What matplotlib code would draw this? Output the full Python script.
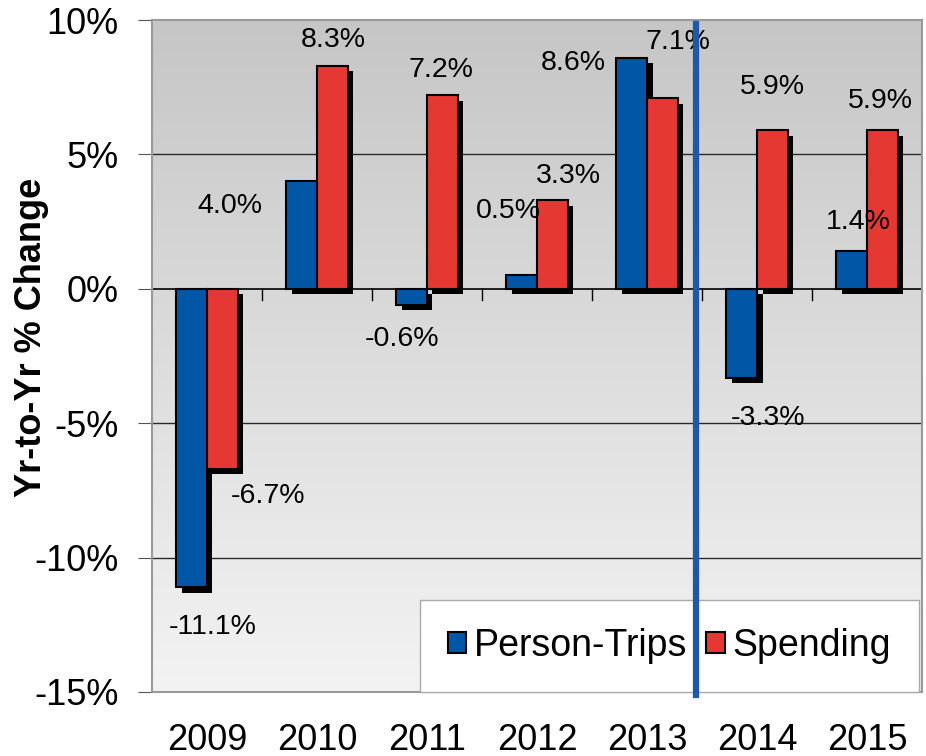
import numpy as np
import matplotlib
matplotlib.use("Agg")
import matplotlib.pyplot as plt
import matplotlib.patheffects as pe
from matplotlib.patches import Patch

plt.rcParams['font.family'] = ['Liberation Sans', 'DejaVu Sans']

# Datos
anios = ['2009', '2010', '2011', '2012', '2013', '2014', '2015']
viajes = [-11.1, 4.0, -0.6, 0.5, 8.6, -3.3, 1.4]
gasto = [-6.7, 8.3, 7.2, 3.3, 7.1, 5.9, 5.9]

# Desplazamiento de las etiquetas respecto a la barra (dx en categorias, dy en %)
desp_viajes = [(0.195, -1.5), (-0.65, -0.93), (-0.09, -1.25), (-0.12, 2.4), (-0.53, -0.2), (0.24, -1.5), (0.06, 1.1)]
desp_gasto = [(0.415, -1.0), (0.005, 0.96), (-0.01, 0.95), (0.15, 0.9), (0.14, 2.1), (0.0, 1.6), (-0.02, 1.1)]

azul = '#0156a6'
rojo = '#e63833'
ancho = 0.28

fig = plt.figure(figsize=(9.26, 7.56), dpi=100)
ax = fig.add_axes([0.164, 0.0847, 0.8317, 0.8888])

x = np.arange(len(anios))

# Fondo degradado (oscuro arriba, claro abajo)
grad = np.linspace(0, 1, 256).reshape(-1, 1)
ax.imshow(grad, cmap=matplotlib.colors.LinearSegmentedColormap.from_list('g', ['#c6c6c6', '#f3f3f3']),
          extent=[-0.5, len(anios) - 0.5, -15, 10], origin='upper', aspect='auto', zorder=0)
ax.set_xlim(-0.5, len(anios) - 0.5)
ax.set_ylim(-15, 10)

# Lineas de la rejilla
for yv in [5, -5, -10]:
    ax.axhline(yv, color='#2a2a2a', lw=1, zorder=1)
ax.axhline(0, color='black', lw=1.2, zorder=1)

sombra = [pe.SimplePatchShadow(offset=(4, -4), shadow_rgbFace='black', alpha=1), pe.Normal()]
ax.bar(x - ancho / 2, viajes, ancho, color=azul, edgecolor='black', lw=1.5, zorder=3, path_effects=sombra)
ax.bar(x + ancho / 2, gasto, ancho, color=rojo, edgecolor='black', lw=1.5, zorder=3, path_effects=sombra)

# marcas de separacion sobre la linea de cero
for xb in np.arange(len(anios) - 1) + 0.5:
    ax.plot([xb, xb], [0, -0.4], color='black', lw=1, zorder=2)

# Etiquetas de valores
for i in range(len(anios)):
    dx, dy = desp_viajes[i]
    ax.text(x[i] - ancho / 2 + dx, viajes[i] + dy, f'{viajes[i]:.1f}%', fontsize=20.5,
            ha='center', va='center', zorder=4)
    dx, dy = desp_gasto[i]
    ax.text(x[i] + ancho / 2 + dx, gasto[i] + dy, f'{gasto[i]:.1f}%', fontsize=20.5,
            ha='center', va='center', zorder=4)

# Linea vertical azul
ax.plot([4.45, 4.45], [9.85, -15.1], color='#1f58a8', lw=4.5, zorder=7, clip_on=False)

ax.set_yticks([-15, -10, -5, 0, 5, 10])
ax.set_yticklabels(['-15%', '-10%', '-5%', '0%', '5%', '10%'], fontsize=26)
ax.set_xticks(x)
ax.set_xticklabels(anios, fontsize=26)
ax.tick_params(axis='x', length=0, pad=22)
ax.tick_params(axis='y', length=10, direction='out', color='#555555', pad=14)
ax.set_ylabel('Yr-to-Yr % Change', fontsize=26, fontweight='bold')
ax.yaxis.set_label_coords(-0.133, 0.528)

for s in ax.spines.values():
    s.set_color('#999999')
    s.set_linewidth(1.5)

manejadores = [Patch(facecolor=azul, edgecolor='black', lw=1.5, label='Person-Trips'),
               Patch(facecolor=rojo, edgecolor='black', lw=1.5, label='Spending')]
leg = ax.legend(handles=manejadores, loc='lower right', bbox_to_anchor=(0.996, 0.0), ncol=2, fontsize=27,
                frameon=True, fancybox=False, borderpad=0.75, borderaxespad=0, handlelength=0.5,
                handleheight=0.5, handletextpad=0.2, columnspacing=0.5, edgecolor='#aaaaaa')
leg.get_frame().set_facecolor('white')
leg.get_frame().set_alpha(1)

fig.savefig('out.png', dpi=100)
